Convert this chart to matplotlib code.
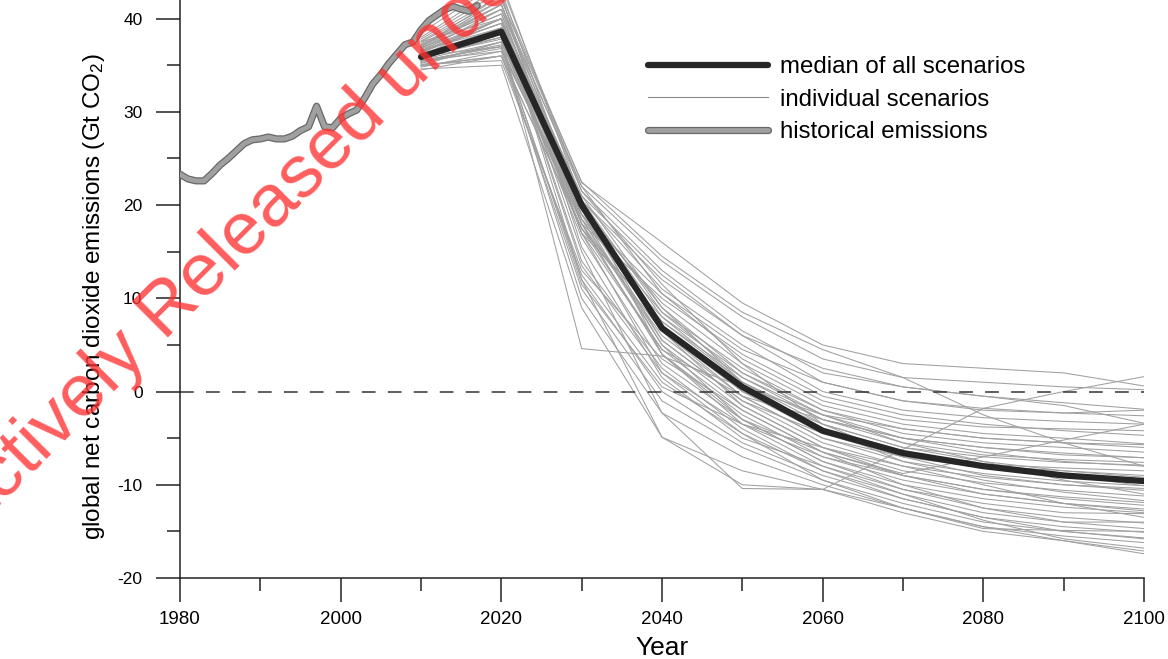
import matplotlib
matplotlib.use("Agg")
import matplotlib.pyplot as plt
import matplotlib.patheffects as pe
from matplotlib.lines import Line2D
from matplotlib.ticker import MultipleLocator

hist_years = list(range(1980, 2018))
hist_values = [23.3, 22.8, 22.6, 22.6, 23.4, 24.3, 25.0, 25.8, 26.6, 27.0,
               27.1, 27.3, 27.1, 27.1, 27.4, 28.0, 28.4, 30.6, 28.4, 28.3,
               29.3, 29.8, 30.2, 31.5, 33.0, 34.0, 35.2, 36.2, 37.2, 37.5,
               38.8, 39.8, 40.4, 41.0, 41.3, 41.0, 40.8, 41.4]

scen_years = [2010, 2020, 2030, 2040, 2050, 2060, 2070, 2080, 2090, 2100]
median_values = [35.9, 38.6, 20.0, 6.8, 0.5, -4.2, -6.6, -8.0, -9.0, -9.6]

scenarios = [
    [37.0, 42.5, 22.4, 16.0, 9.5, 5.0, 3.0, 2.5, 2.0, 0.6],
    [36.5, 41.0, 22.0, 14.0, 8.0, 3.5, 1.5, 1.0, 0.5, 0.2],
    [38.0, 43.5, 21.5, 13.0, 6.5, 2.0, 0.5, -0.5, -1.2, -1.9],
    [36.0, 40.0, 21.0, 12.5, 6.0, 1.0, -1.0, -1.8, -2.3, -2.6],
    [35.5, 39.0, 20.5, 11.0, 5.0, 0.0, -2.0, -2.8, -3.2, -3.5],
    [37.5, 42.0, 22.0, 10.5, 3.5, -1.0, -3.0, -3.8, -4.0, -4.2],
    [36.0, 38.5, 19.5, 9.5, 3.0, -1.5, -3.5, -4.5, -5.0, -5.6],
    [35.0, 37.5, 18.5, 8.5, 2.5, -2.0, -4.5, -5.5, -6.0, -6.5],
    [36.5, 39.5, 21.0, 9.0, 2.0, -2.5, -5.0, -6.0, -6.6, -7.1],
    [34.5, 36.0, 17.5, 7.5, 1.5, -3.0, -5.5, -6.8, -7.3, -7.6],
    [37.0, 41.5, 20.0, 8.0, 1.0, -3.5, -6.0, -7.0, -7.6, -7.9],
    [35.8, 38.0, 19.0, 7.0, 0.5, -4.0, -6.5, -7.8, -8.2, -8.5],
    [36.2, 39.0, 20.5, 6.5, 0.0, -4.5, -7.0, -8.2, -9.0, -9.5],
    [35.5, 37.0, 18.0, 6.0, -0.5, -5.0, -7.5, -8.8, -9.6, -10.1],
    [36.8, 40.5, 19.5, 5.5, -1.0, -5.5, -8.0, -9.2, -10.0, -10.4],
    [34.8, 36.5, 19.0, 5.0, -1.5, -6.0, -8.5, -9.8, -10.6, -11.2],
    [37.2, 41.0, 17.0, 4.5, -2.0, -6.5, -9.0, -10.5, -11.3, -11.9],
    [35.2, 37.5, 18.0, 4.0, -2.5, -7.0, -9.5, -11.0, -12.0, -12.6],
    [36.0, 38.0, 16.5, 3.0, -3.0, -7.5, -10.0, -11.5, -12.4, -13.0],
    [36.5, 39.5, 13.5, 2.0, -3.5, -8.0, -10.5, -12.5, -13.5, -14.1],
    [35.0, 36.0, 12.5, 1.0, -4.5, -8.5, -11.0, -13.0, -14.0, -14.7],
    [37.5, 40.0, 12.0, 0.0, -5.5, -9.0, -11.5, -13.5, -14.5, -15.1],
    [35.5, 36.5, 11.0, -1.0, -6.0, -9.5, -12.0, -14.0, -15.0, -15.7],
    [36.0, 37.0, 10.0, -2.3, -7.0, -10.0, -12.5, -14.5, -15.5, -16.2],
    [34.6, 35.0, 9.0, -4.9, -8.5, -10.5, -13.0, -15.0, -16.0, -17.1],
    [36.0, 38.0, 4.6, 3.8, 0.5, -2.5, -4.0, -5.0, -5.5, -6.0],
    [36.5, 40.0, 15.0, -2.3, -10.4, -10.5, -6.2, -1.8, 0.0, 1.6],
    [35.5, 37.0, 12.0, -4.9, -10.0, -10.5, -12.5, -14.7, -14.9, -15.0],
    [36.0, 39.0, 20.5, 4.0, -3.0, -6.5, -8.8, -7.0, -5.2, -3.5],
    [37.0, 42.0, 22.5, 14.5, 8.5, 4.5, 1.5, -2.5, -5.5, -8.0],
    [36.3, 40.0, 18.0, 10.0, 4.0, -0.5, -2.5, -3.5, -4.2, -4.7],
    [35.7, 38.5, 17.0, 8.0, 2.0, -2.0, -4.0, -5.0, -5.5, -5.7],
    [37.8, 43.0, 19.0, 7.5, 1.0, -3.0, -5.0, -6.0, -6.8, -7.1],
    [36.6, 39.0, 19.5, 6.5, -0.5, -5.0, -7.0, -8.0, -8.5, -9.0],
    [35.3, 36.8, 18.5, 5.5, -1.0, -4.5, -6.5, -8.0, -9.0, -10.1],
    [37.3, 41.5, 21.5, 11.5, 3.0, -3.5, -7.0, -9.0, -10.0, -10.6],
    [36.1, 38.5, 20.0, 9.0, 1.0, -4.0, -7.5, -9.5, -10.8, -11.7],
    [35.6, 37.5, 17.5, 6.5, -1.5, -6.0, -9.0, -11.0, -12.0, -12.8],
    [36.9, 40.5, 18.5, 5.0, -3.0, -7.5, -10.5, -12.0, -13.0, -13.1],
    [35.1, 35.5, 13.0, 3.5, -2.0, -6.5, -10.0, -12.5, -14.0, -14.0],
    [36.4, 39.5, 14.0, 2.5, -4.0, -8.5, -11.5, -13.5, -15.0, -15.8],
    [37.6, 42.5, 15.5, 1.5, -5.0, -8.0, -11.0, -13.8, -15.8, -16.8],
    [36.7, 40.0, 17.0, 2.0, -4.5, -9.5, -12.5, -14.5, -16.0, -17.4],
    [35.9, 37.8, 19.0, 10.5, 4.5, 1.0, -1.0, -2.0, -2.3, -2.0],
    [37.1, 41.0, 20.5, 12.0, 6.0, 2.5, 0.5, -0.5, -1.5, -3.4],
    [34.9, 36.0, 17.5, 4.5, -0.5, -3.0, -5.0, -6.5, -7.5, -8.0],
    [36.2, 38.8, 20.0, 7.0, 0.0, -3.5, -6.0, -7.5, -8.5, -9.2],
    [38.5, 44.0, 20.5, 8.5, 1.5, -2.5, -5.5, -7.5, -9.5, -11.0],
    [35.4, 37.2, 11.5, 0.5, -3.5, -6.0, -8.0, -10.0, -12.0, -13.5],
    [36.8, 41.5, 18.0, 4.0, -3.5, -7.0, -9.0, -10.5, -11.5, -12.2],
]

legend_labels = ["median of all scenarios", "individual scenarios",
                 "historical emissions"]


def main():
    plt.rcParams["font.family"] = ["Liberation Sans", "DejaVu Sans"]
    plt.rcParams["mathtext.default"] = "regular"
    plt.rcParams["axes.unicode_minus"] = False

    fig = plt.figure(figsize=(11.68, 6.59), dpi=100)
    ax = fig.add_axes([180 / 1168, 1 - 578 / 659, 964 / 1168, 578 / 659])

    for s in scenarios:
        ax.plot(scen_years, s, color="#a0a0a0", lw=0.75, zorder=1)

    ax.axhline(0, color="#333333", lw=1.1, ls=(0, (9, 8)), zorder=2)

    hist_line, = ax.plot(hist_years, hist_values, color="#a0a0a0", lw=3.4,
                         solid_capstyle="round", zorder=3,
                         path_effects=[pe.Stroke(linewidth=5.2, foreground="#686868"),
                                       pe.Normal()])
    med_line, = ax.plot(scen_years, median_values, color="#262626", lw=4.5,
                        solid_capstyle="round", zorder=4)

    scen_handle = Line2D([], [], color="#8a8a8a", lw=0.8)
    ax.legend([med_line, scen_handle, hist_line], legend_labels,
              loc="upper left", bbox_to_anchor=(648 / 1168, 1 - 56 / 659),
              bbox_transform=fig.transFigure, frameon=False, fontsize=17.3,
              handlelength=5.0, handletextpad=0.5, labelspacing=0.44,
              borderpad=0, borderaxespad=0)

    ax.set_xlim(1980, 2100)
    ax.set_ylim(-20, 42)
    ax.xaxis.set_major_locator(MultipleLocator(20))
    ax.xaxis.set_minor_locator(MultipleLocator(10))
    ax.yaxis.set_major_locator(MultipleLocator(10))
    ax.yaxis.set_minor_locator(MultipleLocator(5))
    for side in ["top", "right"]:
        ax.spines[side].set_visible(False)
    for side in ["left", "bottom"]:
        ax.spines[side].set_color("#222222")
        ax.spines[side].set_linewidth(1.1)
    ax.tick_params(which="major", direction="out", length=17, width=1.1,
                   color="#222222")
    ax.tick_params(which="minor", direction="out", length=9.5, width=1.1,
                   color="#222222")
    ax.tick_params(axis="x", which="major", labelsize=13.5, pad=7)
    ax.tick_params(axis="y", which="major", labelsize=12.5, pad=10)

    ax.set_xlabel("Year", fontsize=19)
    ax.xaxis.set_label_coords(0.5, -0.100)
    ax.set_ylabel("global net carbon dioxide emissions (Gt CO$_2$)", fontsize=17.5)
    ax.yaxis.set_label_coords(-0.076, 0.486)

    # scanned watermark
    wm = dict(color="#ff3030", alpha=0.78, fontsize=54, rotation=45,
              rotation_mode="anchor", va="baseline", zorder=10)
    fig.text(388 / 1168, 1 - 118 / 659, "Proactively Released", ha="right", **wm)
    fig.text(388 / 1168, 1 - 118 / 659, " under the Official Information Act",
             ha="left", **wm)

    fig.savefig("out.png", dpi=100)


if __name__ == "__main__":
    main()
